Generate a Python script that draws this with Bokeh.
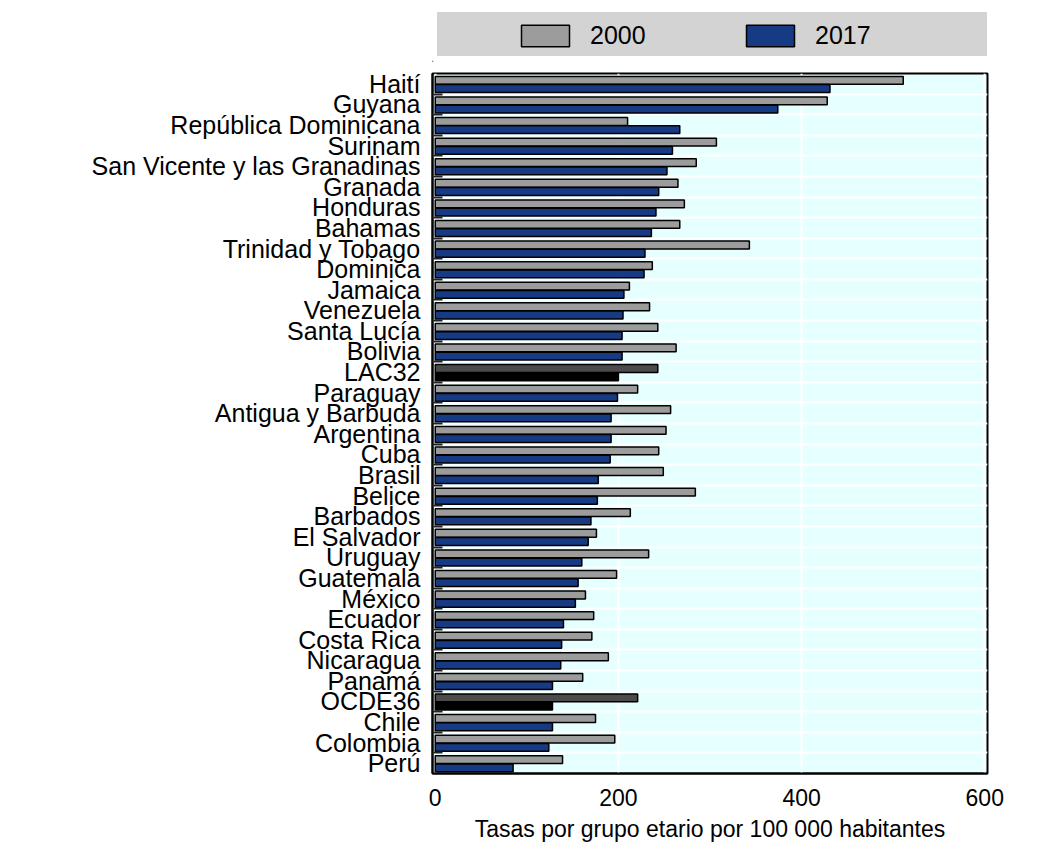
from bokeh.plotting import figure
from bokeh.models import Range1d, FixedTicker, ColumnDataSource, Legend, LegendItem
from bokeh.layouts import column
from bokeh.embed import file_html
from bokeh.resources import INLINE

countries = ["Haití", "Guyana", "República Dominicana", "Surinam",
             "San Vicente y las Granadinas", "Granada", "Honduras", "Bahamas",
             "Trinidad y Tobago", "Dominica", "Jamaica", "Venezuela",
             "Santa Lucía", "Bolivia", "LAC32", "Paraguay", "Antigua y Barbuda",
             "Argentina", "Cuba", "Brasil", "Belice", "Barbados", "El Salvador",
             "Uruguay", "Guatemala", "México", "Ecuador", "Costa Rica",
             "Nicaragua", "Panamá", "OCDE36", "Chile", "Colombia", "Perú"]
v2000 = [511, 428, 210, 307, 285, 265, 272, 267, 343, 237, 212, 234, 243, 263,
         243, 221, 257, 252, 244, 249, 284, 213, 176, 233, 198, 164, 173, 171,
         189, 161, 221, 175, 196, 139]
v2017 = [431, 374, 267, 259, 253, 244, 241, 236, 229, 228, 206, 205, 204, 204,
         200, 199, 192, 192, 191, 178, 177, 170, 167, 160, 156, 153, 140, 138,
         137, 128, 128, 128, 124, 85]
aggregates = ["LAC32", "OCDE36"]
series_names = ["2000", "2017"]
x_ticks = [0, 200, 400, 600]
x_title = "Tasas por grupo etario por 100 000 habitantes"

FONT = "Liberation Sans"
GREY = "#9c9c9c"
BLUE = "#163a84"
DGREY = "#4b4b4b"
BLACK = "#000000"

n = len(countries)
ypos = [n - 1 - i for i in range(n)]
c00 = [DGREY if c in aggregates else GREY for c in countries]
c17 = [BLACK if c in aggregates else BLUE for c in countries]
src = ColumnDataSource(dict(
    y00=[y + 0.17 for y in ypos], y17=[y - 0.23 for y in ypos],
    v00=v2000, v17=v2017, c00=c00, c17=c17))

# ---------------- main chart ----------------
p = figure(width=1008, height=782, x_range=Range1d(-3, 603),
           y_range=Range1d(-0.5, n - 0.5), output_backend="svg",
           toolbar_location=None, min_border_left=432, min_border_right=21,
           min_border_top=8, min_border_bottom=74,
           background_fill_color="#e6ffff", outline_line_color="black",
           outline_line_width=2)
p.hbar(y="y00", right="v00", left=0, height=0.38, fill_color="c00",
       line_color="black", line_width=1.5, source=src)
p.hbar(y="y17", right="v17", left=0, height=0.38, fill_color="c17",
       line_color="black", line_width=1.5, source=src)

yt = FixedTicker(ticks=ypos, minor_ticks=[k + 0.5 for k in range(n - 1)])
p.yaxis.ticker = yt
p.ygrid.ticker = yt
p.yaxis.major_label_overrides = {y: c for y, c in zip(ypos, countries)}
p.yaxis.major_tick_in = 0
p.yaxis.major_tick_out = 0
p.yaxis.minor_tick_in = 10
p.yaxis.minor_tick_out = 0
p.yaxis.minor_tick_line_color = "#222222"
p.yaxis.minor_tick_line_width = 2
p.yaxis.axis_line_color = "black"
p.yaxis.axis_line_width = 2
p.yaxis.major_label_standoff = 12
p.yaxis.major_label_text_font = FONT
p.yaxis.major_label_text_font_size = "25px"
p.yaxis.major_label_text_color = "black"
p.ygrid.grid_line_color = None
p.ygrid.minor_grid_line_color = "white"
p.ygrid.minor_grid_line_width = 2

xt = FixedTicker(ticks=x_ticks, minor_ticks=[])
p.xaxis.ticker = xt
p.xgrid.ticker = xt
p.xgrid.grid_line_color = "white"
p.xgrid.grid_line_width = 2
p.xaxis.major_tick_in = 0
p.xaxis.major_tick_out = 0
p.xaxis.minor_tick_in = 0
p.xaxis.minor_tick_out = 0
p.xaxis.axis_line_color = "black"
p.xaxis.axis_line_width = 2
p.xaxis.major_label_standoff = 15
p.xaxis.major_label_text_font = FONT
p.xaxis.major_label_text_font_size = "23px"
p.xaxis.major_label_text_color = "black"
p.xaxis.axis_label = x_title
p.xaxis.axis_label_standoff = 7
p.xaxis.axis_label_text_font = FONT
p.xaxis.axis_label_text_font_size = "23px"
p.xaxis.axis_label_text_font_style = "normal"
p.xaxis.axis_label_text_color = "black"

# ---------------- legend strip ----------------
q = figure(width=1008, height=65, x_range=Range1d(0, 1), y_range=Range1d(0, 1),
           output_backend="svg", toolbar_location=None,
           x_axis_location=None, y_axis_location=None,
           min_border_left=432, min_border_right=21, min_border_top=4,
           min_border_bottom=4, background_fill_alpha=0,
           border_fill_color="white", outline_line_color=None,
           outline_line_alpha=0)
q.grid.visible = False
# legend-only renderers: their single bar lies far outside the strip's ranges
dummy = ColumnDataSource(dict(y=[-10], l=[-6], r=[-5]))
rbox = q.hbar(y="y", right="r", left="l", height=0.1, fill_alpha=0,
              line_alpha=0, source=dummy)
r1 = q.hbar(y="y", right="r", left="l", height=0.1, fill_color=GREY,
            line_color="black", line_width=1.5, source=dummy)
r2 = q.hbar(y="y", right="r", left="l", height=0.1, fill_color=BLUE,
            line_color="black", line_width=1.5, source=dummy)
box = Legend(items=[LegendItem(label=" ", renderers=[rbox])],
             location=(5, 5), glyph_width=60, glyph_height=44,
             label_width=490, label_height=20, label_standoff=0,
             label_text_font_size="1px", padding=0, margin=0,
             background_fill_color="#d3d3d3", background_fill_alpha=1,
             border_line_color=None)
leg = Legend(items=[LegendItem(label=series_names[0], renderers=[r1]),
                    LegendItem(label=series_names[1], renderers=[r2])],
             location=(83, 11), orientation="horizontal", glyph_width=60,
             glyph_height=27, label_standoff=15, label_width=96, spacing=54,
             padding=0, margin=0, background_fill_alpha=0,
             border_line_color=None, label_text_font=FONT,
             label_text_font_size="25px", label_text_color="black")
q.add_layout(box)
q.add_layout(leg)

layout = column(q, p)
open("out.html", "w").write(file_html(layout, INLINE))
